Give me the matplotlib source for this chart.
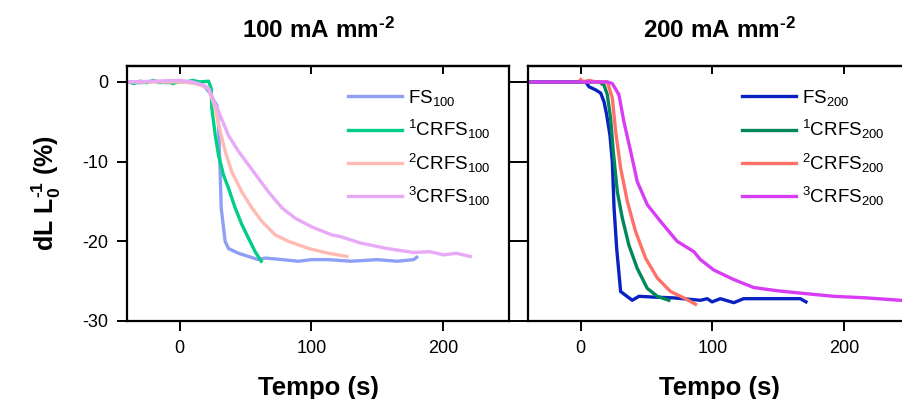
import matplotlib
matplotlib.use("Agg")
import matplotlib.pyplot as plt

plt.rcParams["font.family"] = ["Liberation Sans", "DejaVu Sans"]
plt.rcParams["mathtext.default"] = "regular"
plt.rcParams["axes.unicode_minus"] = False

# --- 100 mA mm-2 -------------------------------------------------------------
fs100_t = [-40, -30, -20, -10, 0, 10, 18, 23, 25.7, 28.2, 29.5, 30.8, 31.5,
           34.5, 37, 44.6, 52.2, 59.8, 65, 78, 90, 100, 113, 130, 150, 165,
           177.5, 180]
fs100_y = [0, -0.1, 0.1, -0.1, 0, -0.1, -0.4, -1.4, -2.3, -2.9, -5.5, -11.7,
           -15.8, -20.0, -20.9, -21.5, -21.9, -22.3, -22.1, -22.3, -22.5,
           -22.3, -22.3, -22.5, -22.3, -22.5, -22.3, -22.0]

crfs1_100_t = [-40, -35, -30, -25, -20, -15, -10, -5, 0, 5, 10, 15, 21.9,
               23.9, 24.4, 27, 29.5, 33.3, 37, 42.1, 47.2, 52.2, 57.3, 61.9]
crfs1_100_y = [0.1, -0.2, 0.1, -0.1, 0.2, -0.1, 0.1, -0.2, 0.1, 0.0, 0.2, 0.0,
               0.1, -0.8, -3.3, -6.7, -9.2, -11.7, -13.3, -15.8, -17.9, -19.6,
               -21.3, -22.5]

crfs2_100_t = [-40, 0, 10, 15.6, 21.9, 27, 30.8, 34.5, 39.6, 47.2, 54.8, 62.4,
               72.5, 82.6, 97.8, 113, 127]
crfs2_100_y = [0, 0, -0.1, -0.4, -0.8, -3.3, -6.2, -8.7, -11.3, -13.8, -15.8,
               -17.5, -19.2, -20.0, -20.9, -21.5, -21.9]

crfs3_100_t = [-40, 0, 10, 18, 21.9, 29.5, 37, 44.6, 52.2, 59.8, 67.4, 77.6,
               87.7, 100.4, 115.6, 121.9, 137, 157.3, 177.5, 190, 200.3, 210,
               220.6]
crfs3_100_y = [0, 0.2, 0, -0.4, -0.8, -3.7, -6.7, -8.7, -10.4, -12.1, -13.8,
               -15.8, -17.1, -18.2, -19.2, -19.4, -20.2, -20.9, -21.4, -21.3,
               -21.7, -21.5, -21.9]

# --- 200 mA mm-2 -------------------------------------------------------------
fs200_t = [-40, 0, 3.8, 6.3, 11.4, 15.2, 17.7, 19.7, 22.2, 24, 25.3, 27.3,
           30.3, 39.1, 44.2, 55.6, 70.7, 90.9, 96, 99.7, 106, 116.2, 123.7,
           166.7, 171]
fs200_y = [0, 0, 0, -0.6, -1.0, -1.4, -2.5, -4.1, -6.7, -10.0, -15.8, -20.9,
           -26.3, -27.4, -26.9, -27.0, -27.1, -27.4, -27.2, -27.6, -27.2,
           -27.7, -27.2, -27.2, -27.6]

crfs1_200_t = [-40, 0, 13.9, 17.7, 20.2, 22.7, 24.7, 27.8, 31.6, 36.6, 42.9,
               50.5, 58.1, 66.9]
crfs1_200_y = [0, 0, 0, -0.4, -1.6, -4.6, -8.7, -13.8, -17.1, -20.5, -23.4,
               -25.9, -26.9, -27.4]

crfs2_200_t = [0, 2, 6, 12, 20.2, 24, 26.5, 30.3, 35.4, 41.7, 49.2, 58.1, 68.2,
               78.3, 87.1]
crfs2_200_y = [0.3, 0, 0.2, 0, 0, -2.0, -6.2, -10.8, -15.0, -18.8, -22.1,
               -24.6, -26.3, -27.1, -27.9]

crfs3_200_t = [-40, 0, 20.2, 24, 29, 32.8, 37.9, 42.9, 50.5, 60.6, 73.2, 85.9,
               90.9, 101, 116.2, 131.3, 149, 166.7, 191.9, 217, 242.4, 250]
crfs3_200_y = [0, 0, 0, -0.2, -1.6, -5.0, -8.7, -12.5, -15.4, -17.5, -20.0,
               -21.3, -22.3, -23.6, -24.8, -25.8, -26.2, -26.5, -26.9, -27.1,
               -27.4, -27.5]

left_series = [
    (fs100_t, fs100_y, "FS$_{100}$", "#8f9ff5"),
    (crfs1_100_t, crfs1_100_y, "$^{1}$CRFS$_{100}$", "#00cf85"),
    (crfs2_100_t, crfs2_100_y, "$^{2}$CRFS$_{100}$", "#ffbab4"),
    (crfs3_100_t, crfs3_100_y, "$^{3}$CRFS$_{100}$", "#e8a9f7"),
]
right_series = [
    (fs200_t, fs200_y, "FS$_{200}$", "#0a22c2"),
    (crfs1_200_t, crfs1_200_y, "$^{1}$CRFS$_{200}$", "#00875a"),
    (crfs2_200_t, crfs2_200_y, "$^{2}$CRFS$_{200}$", "#ff7068"),
    (crfs3_200_t, crfs3_200_y, "$^{3}$CRFS$_{200}$", "#d83cf5"),
]

x_ticks = [0, 100, 200]
y_ticks = [0, -10, -20, -30]


def style_axes(ax, show_ylabels):
    ax.set_xlim(-40, 250)
    ax.set_ylim(-30, 2)
    ax.set_xticks(x_ticks)
    ax.set_yticks(y_ticks)
    for sp in ax.spines.values():
        sp.set_linewidth(1.6)
    ax.tick_params(axis="both", direction="out", length=7.5, width=1.4,
                   labelsize=13, pad=6)
    ax.tick_params(axis="y", left=True, right=True, labelleft=show_ylabels)
    top = ax.secondary_xaxis("top")
    top.set_xticks(x_ticks)
    top.tick_params(direction="in", length=6, width=1.4, labeltop=False)
    top.spines["top"].set_linewidth(1.6)
    ax.set_xlabel("Tempo (s)", fontsize=18.5, fontweight="bold", labelpad=14)


fig = plt.figure(figsize=(9.02, 3.99), dpi=100)
ax1 = fig.add_axes([0.1408, 0.1955, 0.4235, 0.639])
ax2 = fig.add_axes([0.5854, 0.1955, 0.4235, 0.639])

for ax, series, title, lx in [(ax1, left_series, "100 mA mm$^{\u20102}$", 0.578),
                              (ax2, right_series, "200 mA mm$^{\u20102}$", 0.560)]:
    for t, y, label, color in series:
        ax.plot(t, y, color=color, lw=2.4, label=label)
    style_axes(ax, ax is ax1)
    ax.set_title(title, fontsize=17.5, fontweight="bold", pad=20)
    ax.legend(loc="upper left", bbox_to_anchor=(lx, 0.915), frameon=False,
              fontsize=13.5, borderpad=0, borderaxespad=0, handlelength=2.9,
              handletextpad=0.3, labelspacing=0.55)

ax1.set_ylabel("dL L$_0^{\u20101}$ (%)", fontsize=18, fontweight="bold",
               labelpad=14)

fig.savefig("out.png", dpi=100)
